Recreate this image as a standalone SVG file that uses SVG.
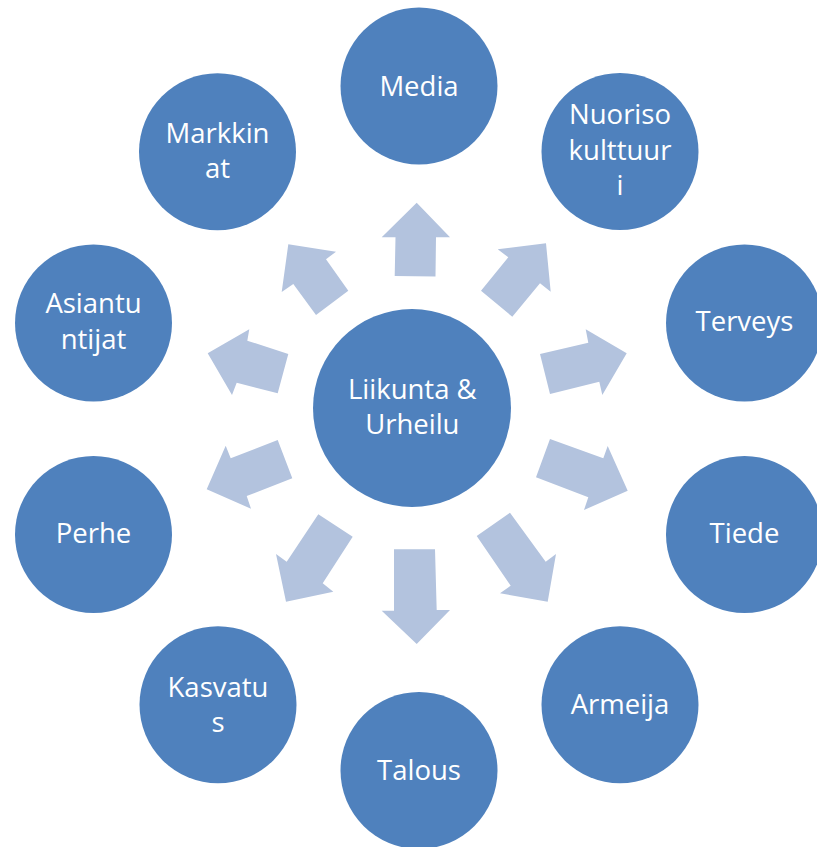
<svg xmlns="http://www.w3.org/2000/svg" width="817" height="847" viewBox="0 0 817 847">
<style>
.c{fill:#4F81BD;}
.t{fill:#FFFFFF;font-family:"Open Sans","Liberation Sans",sans-serif;font-size:27.5px;text-anchor:middle;}
.a{fill:#B3C3DE;}
</style>
<rect width="817" height="847" fill="#FFFFFF"/>
<g id="connectors">
<polygon class="a" points="394.7,276 395.5,237.3 381.7,237.3 416.7,202.7 450,237.3 436,237.3 435.5,276.5"/>
<polygon class="a" points="497.7,249.3 546,243.3 550.7,291.7 540,283.3 512.3,316.7 481,290.7 508.3,257.3"/>
<polygon class="a" points="540,354 588.3,342.7 585.7,329.3 626.7,353.3 602.3,395 599.3,381.7 550,394"/>
<polygon class="a" points="550,439 603.3,458.3 607.7,446 627.7,490.7 584,510 588.3,497.3 536,477.3"/>
<polygon class="a" points="510,512.7 545.7,561.7 556,554 547.7,601.7 500,593.3 510.7,585.7 476.7,536"/>
<polygon class="a" points="394,549.3 435,549.3 436.7,610 450,610 416.7,644 381.7,610.7 394,610.7"/>
<polygon class="a" points="318.3,514.3 352.7,536.7 322.7,583.3 333.3,591.7 286,601.7 276,554 286.7,561.7"/>
<polygon class="a" points="277.7,440 292.3,478.3 246.7,496 251,508.7 206.7,489.3 225.7,445.7 230.7,458.3"/>
<polygon class="a" points="249.3,329.3 247.3,340.7 288.3,354 277.7,393.3 236.7,382.7 232,395 207.7,353.3"/>
<polygon class="a" points="288.3,244.3 336,251.7 326,259.3 348.3,290.7 316,315 293.3,284 281.7,292"/>
</g>
<g id="center">
<circle class="c" cx="412" cy="408" r="99"/>
<text class="t" x="412.3" y="399.3">Liikunta &amp;</text>
<text class="t" x="412.3" y="434.3">Urheilu</text>
</g>
<g id="media">
<circle class="c" cx="419" cy="86" r="78.5"/>
<text class="t" x="419" y="95.7">Media</text>
</g>
<g id="nuorisokulttuuri">
<circle class="c" cx="620" cy="151.5" r="78.5"/>
<text class="t" x="620" y="124.3">Nuoriso</text>
<text class="t" x="620" y="160">kulttuur</text>
<text class="t" x="620" y="195">i</text>
</g>
<g id="terveys">
<circle class="c" cx="744.5" cy="323" r="78.5"/>
<text class="t" x="744.5" y="331">Terveys</text>
</g>
<g id="tiede">
<circle class="c" cx="744.5" cy="534.5" r="78.5"/>
<text class="t" x="744.5" y="543.3">Tiede</text>
</g>
<g id="armeija">
<circle class="c" cx="620" cy="704.7" r="78.5"/>
<text class="t" x="620" y="714">Armeija</text>
</g>
<g id="talous">
<circle class="c" cx="419" cy="770.5" r="78.5"/>
<text class="t" x="419" y="780">Talous</text>
</g>
<g id="kasvatus">
<circle class="c" cx="218" cy="704.7" r="78.5"/>
<text class="t" x="218" y="697.3">Kasvatu</text>
<text class="t" x="218" y="731.7">s</text>
</g>
<g id="perhe">
<circle class="c" cx="93.5" cy="534.5" r="78.5"/>
<text class="t" x="93.5" y="543.3">Perhe</text>
</g>
<g id="asiantuntijat">
<circle class="c" cx="93.5" cy="323" r="78.5"/>
<text class="t" x="93.5" y="313.3">Asiantu</text>
<text class="t" x="93.5" y="349.3">ntijat</text>
</g>
<g id="markkinat">
<circle class="c" cx="217.5" cy="151.7" r="78.5"/>
<text class="t" x="217.5" y="142.7">Markkin</text>
<text class="t" x="217.5" y="177.7">at</text>
</g>
</svg>
